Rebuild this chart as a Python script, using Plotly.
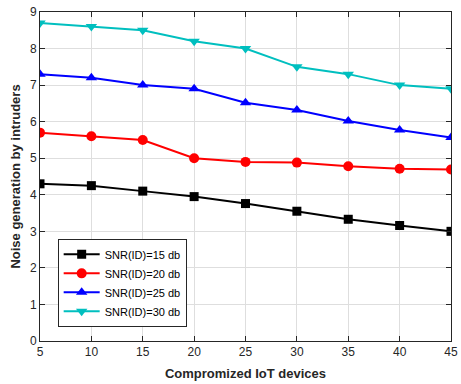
import plotly.graph_objects as go

x_devices = [5, 10, 15, 20, 25, 30, 35, 40, 45]
snr15 = [4.3, 4.25, 4.1, 3.95, 3.76, 3.55, 3.33, 3.16, 3.0]
snr20 = [5.7, 5.6, 5.5, 5.0, 4.9, 4.88, 4.78, 4.71, 4.69]
snr25 = [7.3, 7.2, 7.0, 6.9, 6.52, 6.32, 6.02, 5.77, 5.57]
snr30 = [8.7, 8.6, 8.5, 8.2, 8.0, 7.5, 7.3, 7.0, 6.9]
names = ["SNR(ID)=15 db", "SNR(ID)=20 db", "SNR(ID)=25 db", "SNR(ID)=30 db"]
colors = ["#000000", "#ff0000", "#0000ff", "#00bfbf"]
symbols = ["square", "circle", "triangle-up", "triangle-down"]
x_ticks = [5, 10, 15, 20, 25, 30, 35, 40, 45]
y_ticks = [0, 1, 2, 3, 4, 5, 6, 7, 8, 9]

fig = go.Figure()
for ys, n, c, s in zip([snr15, snr20, snr25, snr30], names, colors, symbols):
    fig.add_trace(go.Scatter(x=x_devices, y=ys, name=n, mode="lines+markers",
                             line=dict(color=c, width=2),
                             marker=dict(symbol=s, size=10 if s != "square" else 9, color=c)))

axis_common = dict(showgrid=True, gridcolor="#dedede", gridwidth=1,
                   showline=True, linecolor="#262626", linewidth=1, mirror="ticks",
                   ticks="inside", ticklen=5, tickcolor="#262626", zeroline=False,
                   ticklabeloverflow="allow",
                   tickfont=dict(family="Liberation Sans, Arial", size=12, color="#262626"))

fig.update_layout(
    width=461, height=384,
    margin=dict(l=40, r=3, t=12, b=43),
    paper_bgcolor="white", plot_bgcolor="white",
    font=dict(family="Liberation Sans, Arial", color="#262626"),
    xaxis=dict(range=[5, 45], tickvals=x_ticks,
               title=dict(text="<b>Compromized IoT devices</b>", font=dict(size=13, color="#262626"), standoff=10),
               **axis_common),
    yaxis=dict(range=[0, 9], tickvals=y_ticks,
               title=dict(text="<b>Noise generation by intruders</b>", font=dict(size=13, color="#262626"), standoff=6),
               **axis_common),
    legend=dict(x=0.043, y=0.043, xanchor="left", yanchor="bottom",
                bgcolor="white", bordercolor="#262626", borderwidth=1,
                font=dict(size=11, color="#000000"), tracegroupgap=0, itemwidth=36),
    showlegend=True,
)

fig.write_html("out.html")
